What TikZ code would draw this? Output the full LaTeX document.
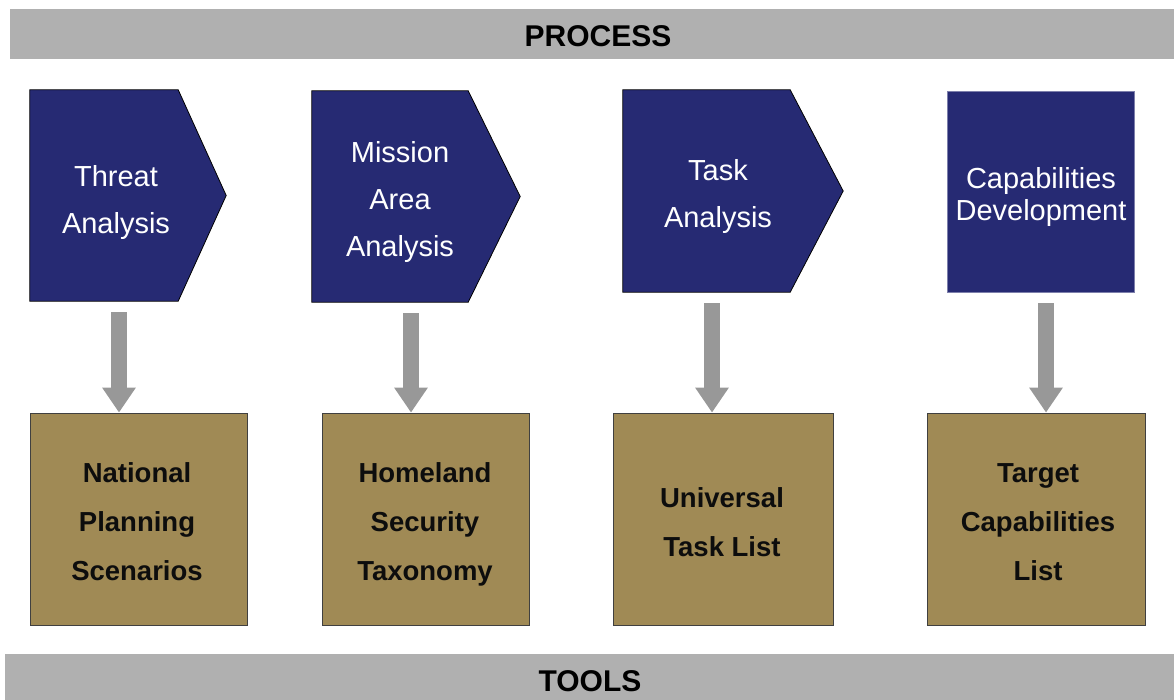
\documentclass[tikz,border=0pt]{standalone}
\usepackage{fontspec}
\setmainfont{Liberation Sans}
\usetikzlibrary{calc,arrows.meta}
\definecolor{navy}{RGB}{38,42,115}
\definecolor{tan}{RGB}{160,138,85}
\definecolor{banner}{RGB}{176,176,176}
\definecolor{arrowgray}{RGB}{152,152,152}
\tikzset{
  x=1pt, y=-1pt,
  bannertext/.style={inner sep=0pt, font=\fontsize{30}{30}\selectfont\bfseries, text=black},
  frame/.style={draw=none, inner sep=0pt},
  procshape/.style={fill=navy, draw=black, line width=0.8pt},
  proctext/.style={text=white, align=center, inner sep=0pt, font=\fontsize{29}{47}\selectfont},
  toolbox/.style={fill=tan, draw=black!75, line width=0.8pt, inner sep=0pt, align=center, font=\fontsize{27.5}{49}\selectfont\bfseries, text=black!95},
  bigarrow/.style={draw=arrowgray, line width=16pt, -{Triangle[width=32pt,length=25pt]}, color=arrowgray, shorten <=11pt}
}
\begin{document}
\begin{tikzpicture}
\useasboundingbox (0,0) rectangle (1174,700);
% banners
\fill[banner] (10,9) rectangle (1174,59);
\node[bannertext] (process) at (598,36) {PROCESS};
\fill[banner] (5,654) rectangle (1174,700);
\node[bannertext] (tools) at (590,681) {TOOLS};

% process frames (invisible)
\node[frame, minimum width=196pt, minimum height=211pt] (c1) at (128,195.5) {};
\node[frame, minimum width=208pt, minimum height=211pt] (c2) at (416,196.5) {};
\node[frame, minimum width=220pt, minimum height=202pt] (c3) at (733,191) {};
\node[procshape, draw=navy!60, minimum width=187pt, minimum height=201pt] (c4) at (1040.5,191.5) {};

\draw[procshape] (c1.north west) -- ($(c1.north east)+(-48,0)$) -- (c1.east) -- ($(c1.south east)+(-48,0)$) -- (c1.south west) -- cycle;
\draw[procshape] (c2.north west) -- ($(c2.north east)+(-52,0)$) -- (c2.east) -- ($(c2.south east)+(-52,0)$) -- (c2.south west) -- cycle;
\draw[procshape] (c3.north west) -- ($(c3.north east)+(-53,0)$) -- (c3.east) -- ($(c3.south east)+(-53,0)$) -- (c3.south west) -- cycle;

\node[proctext] (t1) at (116,202.5) {Threat\\Analysis};
\node[proctext] (t2) at (400,202) {Mission\\Area\\Analysis};
\node[proctext] (t3) at (718,197) {Task\\Analysis};
\node[proctext, font=\fontsize{29}{32}\selectfont] (t4) at (1041,197) {Capabilities\\Development};

% tool boxes
\node[toolbox, minimum width=217pt, minimum height=212pt] (b1) at (138.5,519) {};
\node[toolbox, minimum width=207pt, minimum height=212pt] (b2) at (425.5,519) {};
\node[toolbox, minimum width=220pt, minimum height=212pt] (b3) at (723,519) {};
\node[toolbox, minimum width=218pt, minimum height=212pt] (b4) at (1036,519) {};

\node[toolbox, fill=none, draw=none] (l1) at (137,522) {National\\Planning\\Scenarios};
\node[toolbox, fill=none, draw=none] (l2) at (425,524) {Homeland\\Security\\Taxonomy};
\node[toolbox, fill=none, draw=none] (l3) at (722,522) {Universal\\Task List};
\node[toolbox, fill=none, draw=none] (l4) at (1038,522) {Target\\Capabilities\\List};

% arrows
\coordinate (a1) at (119,0);
\coordinate (a2) at (411,0);
\coordinate (a3) at (712,0);
\coordinate (a4) at (1046,0);
\draw[bigarrow] (c1.south -| a1) -- (b1.north -| a1);
\draw[bigarrow] (c2.south -| a2) -- (b2.north -| a2);
\draw[bigarrow] (c3.south -| a3) -- (b3.north -| a3);
\draw[bigarrow] (c4.south -| a4) -- (b4.north -| a4);
\end{tikzpicture}
\end{document}
